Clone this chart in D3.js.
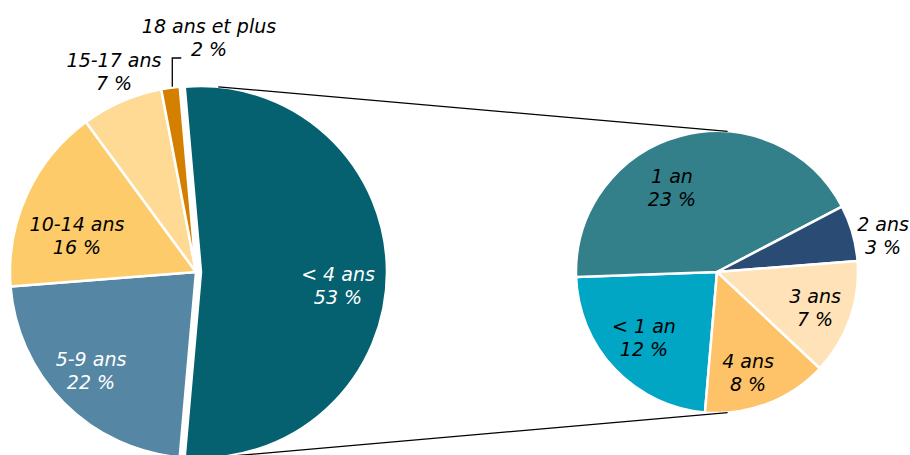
<!DOCTYPE html>
<html>
<head>
<meta charset="utf-8">
<script src="https://cdn.jsdelivr.net/npm/d3@7"></script>
<style>
  html, body { margin: 0; padding: 0; background: #fff; }
  svg { display: block; }
  text { font-family: "DejaVu Sans", Verdana, sans-serif; font-style: italic; font-size: 19px; }
</style>
</head>
<body>
<script>
// ---- Data ----
// Main pie (share of total, %)
const mainCategories = ["< 4 ans", "5-9 ans", "10-14 ans", "15-17 ans", "18 ans et plus"];
const mainValues     = [52.9, 22.4, 16.2, 7.1, 1.6];
const mainLabels     = ["53 %", "22 %", "16 %", "7 %", "2 %"];
// Detail pie (breakdown of "< 4 ans", % of total)
const detailCategories = ["< 1 an", "1 an", "2 ans", "3 ans", "4 ans"];
const detailValues     = [12.2, 22.7, 3.4, 7.0, 7.6];
const detailLabels     = ["12 %", "23 %", "3 %", "7 %", "8 %"];

// ---- Styles / layout ----
const W = 910, H = 455;
const mainColors   = ["#05616f", "#5586a4", "#fdcb6a", "#ffda94", "#d57f00"];
const detailColors = ["#00a6c4", "#33808a", "#2a4c74", "#ffe2b8", "#fec269"];
const mainTextColors   = ["#fff", "#fff", "#000", "#000", "#000"];
const detailTextColors = ["#000", "#000", "#000", "#000", "#000"];

const main = { cx: 196, cy: 272, r: 186, explode: 5 };
const detail = { cx: 717, cy: 272, r: 141, start: 184.9 * Math.PI / 180 };

// first-line baseline positions of labels
const mainLabelPos   = [[338, 281], [91, 366], [77, 231], [114, 67], [209, 33]];
const detailLabelPos = [[644, 333], [672, 183], [883, 231], [815, 303], [748, 368]];
const lineGap = 23;

const svg = d3.select("body").append("svg").attr("width", W).attr("height", H);

// ---- Main pie ----
const total = d3.sum(mainValues);
const splitSpan = mainValues[0] / total * 2 * Math.PI;
const mainPie = d3.pie().sort(null).value(d => d)
  .startAngle(Math.PI / 2 - splitSpan / 2)
  .endAngle(Math.PI / 2 - splitSpan / 2 + 2 * Math.PI);
const mainArcs = mainPie(mainValues);
const mainArc = d3.arc().innerRadius(0).outerRadius(main.r);

const gMain = svg.append("g").attr("transform", `translate(${main.cx},${main.cy})`);
gMain.selectAll("path").data(mainArcs).join("path")
  .attr("d", mainArc)
  .attr("fill", (d, i) => mainColors[i])
  .attr("stroke", "#fff").attr("stroke-width", 2.5).attr("stroke-linejoin", "round")
  .attr("transform", (d, i) => {
    if (i !== 0) return null;
    const a = (d.startAngle + d.endAngle) / 2;
    return `translate(${main.explode * Math.sin(a)},${-main.explode * Math.cos(a)})`;
  });

// ---- Detail pie ----
const detailPie = d3.pie().sort(null).value(d => d)
  .startAngle(detail.start).endAngle(detail.start + 2 * Math.PI);
const detailArcs = detailPie(detailValues);
const detailArc = d3.arc().innerRadius(0).outerRadius(detail.r);
const gDetail = svg.append("g").attr("transform", `translate(${detail.cx},${detail.cy})`);
gDetail.selectAll("path").data(detailArcs).join("path")
  .attr("d", detailArc)
  .attr("fill", (d, i) => detailColors[i])
  .attr("stroke", "#fff").attr("stroke-width", 2.5).attr("stroke-linejoin", "round");

// ---- Connector lines ----
const splitMid = (mainArcs[0].startAngle + mainArcs[0].endAngle) / 2;
const sCx = main.cx + main.explode * Math.sin(splitMid);
const sCy = main.cy - main.explode * Math.cos(splitMid);
const aL = 5.3 * Math.PI / 180, aR = 4.3 * Math.PI / 180;
const pt = (cx, cy, r, a) => [cx + r * Math.sin(a), cy - r * Math.cos(a)];
const conn = [
  [pt(sCx, sCy, main.r, aL), pt(detail.cx, detail.cy, detail.r, aR)],
  [pt(sCx, sCy, main.r, Math.PI - aL), pt(detail.cx, detail.cy, detail.r, Math.PI - aR)]
];
svg.selectAll("line.conn").data(conn).join("line").attr("class", "conn")
  .attr("x1", d => d[0][0]).attr("y1", d => d[0][1])
  .attr("x2", d => d[1][0]).attr("y2", d => d[1][1])
  .attr("stroke", "#000").attr("stroke-width", 1.3);

// ---- Leader line for small slice ----
const small = mainArcs[4];
const smallMid = (small.startAngle + small.endAngle) / 2;
const ls = pt(main.cx, main.cy, main.r + 1, smallMid);
svg.append("path")
  .attr("d", d3.line()([[ls[0] + 2, ls[1]], [ls[0] + 2, 58], [ls[0] + 11, 58]]))
  .attr("fill", "none").attr("stroke", "#000").attr("stroke-width", 1.3);

// ---- Labels ----
function addLabels(cats, labs, pos, colors) {
  const t = svg.append("g").selectAll("text").data(cats).join("text")
    .attr("text-anchor", "middle")
    .attr("fill", (d, i) => colors[i]);
  t.append("tspan").attr("x", (d, i) => pos[i][0]).attr("y", (d, i) => pos[i][1]).text(d => d);
  t.append("tspan").attr("x", (d, i) => pos[i][0]).attr("y", (d, i) => pos[i][1] + lineGap).text((d, i) => labs[i]);
}
addLabels(mainCategories, mainLabels, mainLabelPos, mainTextColors);
addLabels(detailCategories, detailLabels, detailLabelPos, detailTextColors);
</script>
</body>
</html>
